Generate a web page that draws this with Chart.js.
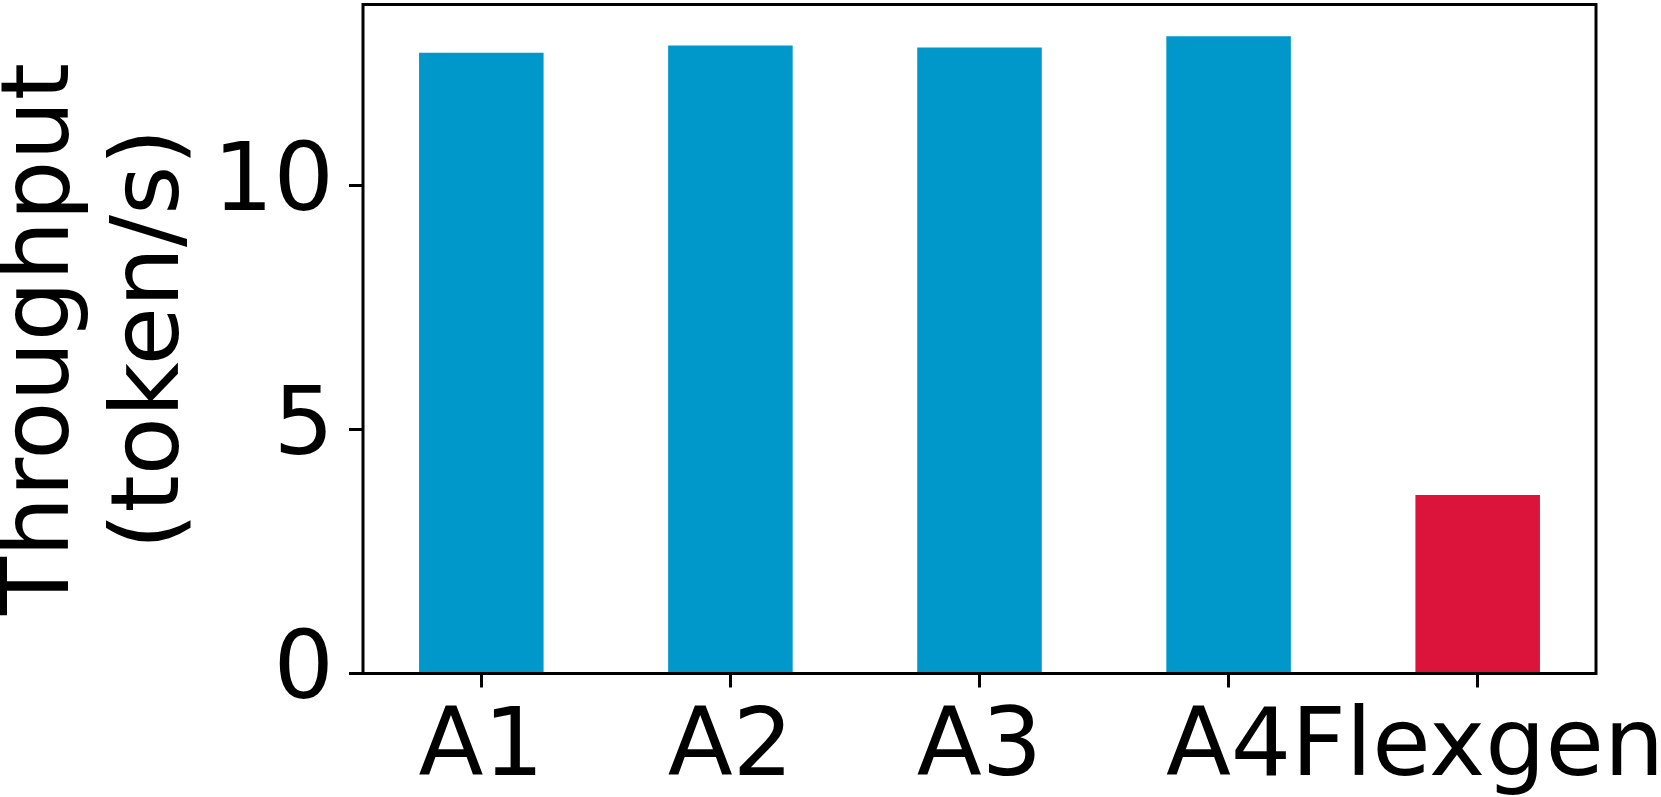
<!DOCTYPE html>
<html>
<head>
<meta charset="utf-8">
<script src="https://cdn.jsdelivr.net/npm/chart.js@4/dist/chart.umd.min.js"></script>
<style>
  html, body { margin: 0; padding: 0; background: #fff; }
  #wrap { width: 1661px; height: 797px; position: relative; }
</style>
</head>
<body>
<div id="wrap"><canvas id="c"></canvas></div>
<script>
const categories = ['A1', 'A2', 'A3', 'A4', 'Flexgen'];
const throughput = [12.72, 12.87, 12.83, 13.06, 3.66];
const barColors = ['#0098CA', '#0098CA', '#0098CA', '#0098CA', '#DC143C'];
const yTicks = [0, 5, 10];
const yTitle = ['Throughput', '(token/s)'];

const FONT = "'DejaVu Sans', sans-serif";

const framePlugin = {
  id: 'frame',
  afterDatasetsDraw(chart) {
    const a = chart.chartArea, ctx = chart.ctx;
    ctx.save();
    ctx.strokeStyle = '#000';
    ctx.lineWidth = 3;
    ctx.strokeRect(a.left, a.top, a.right - a.left, a.bottom - a.top);
    ctx.restore();
  }
};

function zeroPad(scale) {
  scale.paddingTop = 0; scale.paddingBottom = 0;
  scale.paddingLeft = 0; scale.paddingRight = 0;
}

new Chart(document.getElementById('c'), {
  type: 'bar',
  data: {
    datasets: [{
      data: categories.map((c, i) => ({ x: i, y: throughput[i] })),
      backgroundColor: barColors,
      borderWidth: 0,
      barPercentage: 0.5,
      categoryPercentage: 1.0
    }]
  },
  options: {
    responsive: true,
    maintainAspectRatio: false,
    devicePixelRatio: 1,
    animation: false,
    layout: { padding: { left: 0, right: 65, top: 4.5, bottom: 0 } },
    plugins: { legend: { display: false }, tooltip: { enabled: false } },
    scales: {
      x: {
        type: 'linear',
        min: -0.475,
        max: 4.475,
        offset: false,
        afterBuildTicks(scale) { scale.ticks = categories.map((c, i) => ({ value: i })); },
        afterFit(scale) { scale.height = 123.5; zeroPad(scale); },
        grid: { display: true, offset: false, drawOnChartArea: false, drawTicks: true, tickLength: 14, tickWidth: 3, tickColor: '#000' },
        border: { display: false },
        ticks: {
          autoSkip: false, maxRotation: 0, minRotation: 0,
          color: '#000', padding: 15,
          font: { family: FONT, size: 95, lineHeight: 1.0 },
          callback: (v) => categories[v]
        }
      },
      y: {
        type: 'linear',
        min: 0,
        max: 13.71,
        afterBuildTicks(scale) { scale.ticks = yTicks.map(v => ({ value: v })); },
        afterFit(scale) { scale.width = 363; zeroPad(scale); },
        grid: { display: true, drawOnChartArea: false, drawTicks: true, tickLength: 14, tickWidth: 3, tickColor: '#000' },
        border: { display: false },
        ticks: {
          color: '#000', padding: 15,
          font: { family: FONT, size: 95, lineHeight: 1.0 },
          callback: (v) => String(v)
        },
        title: {
          display: true,
          text: yTitle,
          color: '#000',
          font: { family: FONT, size: 95, lineHeight: 1.15 },
          padding: { top: -11, bottom: 0 }
        }
      }
    }
  },
  plugins: [framePlugin]
});
</script>
</body>
</html>
